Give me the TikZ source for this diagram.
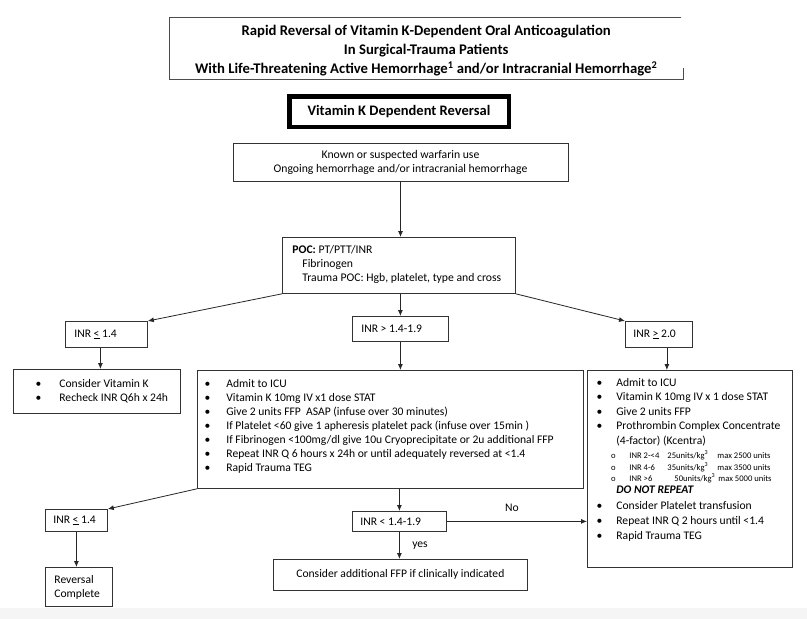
\documentclass[tikz,border=0pt]{standalone}
\usepackage{fontspec}
\setmainfont{Carlito}
\usetikzlibrary{arrows.meta}
\newcommand\bline[3]{\hspace*{#1}\makebox[0pt]{\textbullet}\hspace*{\dimexpr#2-#1\relax}#3}
\newcommand\bodyfont{\fontsize{11.6}{14}\selectfont}
\newcommand\subfont{\fontsize{8.6}{10}\selectfont}
\tikzset{
  box/.style={draw=black!80, line width=0.8pt, inner sep=0pt, anchor=north west},
  arr/.style={draw=black!85, line width=0.8pt, -{Latex[length=6pt,width=5pt]}},
  lbl/.style={inner sep=0pt, font=\bodyfont}
}
\begin{document}
\begin{tikzpicture}[x=1pt,y=-1pt]
\useasboundingbox (0,0) rectangle (807,619);
\fill[white] (0,0) rectangle (807,619);
\fill[black!4] (0,608) rectangle (807,619);

% title
\node[inner sep=0pt, anchor=north west] (title) at (169,17) {\parbox[c][62pt][t]{514pt}{\centering\fontsize{14.7}{19}\bfseries\selectfont\rule{0pt}{18.5pt}Rapid Reversal of Vitamin K-Dependent Oral Anticoagulation\\ In Surgical-Trauma Patients\\ With Life-Threatening Active Hemorrhage\textsuperscript{1} and/or Intracranial Hemorrhage\textsuperscript{2}}};
\draw[black!70, line width=0.8pt] ([xshift=-2pt]title.north east) -- (title.north west) -- (title.south west) -- (title.south east) -- ++(0,-11);

% vitamin K dependent reversal
\node[draw=black, line width=4.5pt, inner sep=0pt, minimum width=219.5pt, minimum height=30.5pt, font=\fontsize{14.5}{16}\bfseries\selectfont] (vkdr) at (399,111.5) {Vitamin K Dependent Reversal};

% known
\node[draw=black!80, line width=0.8pt, minimum width=335pt, minimum height=38pt, align=center, inner sep=0pt, font=\fontsize{11.7}{14}\selectfont] (known) at (400.5,162) {Known or suspected warfarin use\\Ongoing hemorrhage and/or intracranial hemorrhage};

% POC
\node[box] (poc) at (282,237) {\parbox[c][56pt][t]{233pt}{\fontsize{11.7}{14}\selectfont\rule{0pt}{16pt}\hspace*{10pt}\textbf{POC:} PT/PTT/INR\\ \hspace*{20pt}Fibrinogen\\ \hspace*{20pt}Trauma POC: Hgb, platelet, type and cross}};

% INR decision boxes
\node[box] (inrl) at (65,321) {\parbox[c][26pt][c]{82pt}{\bodyfont\hspace*{9pt}INR \underline{<} 1.4}};
\node[box] (inrm) at (352,316) {\parbox[c][25pt][c]{96pt}{\bodyfont\hspace*{9pt}INR > 1.4-1.9}};
\node[box] (inrh) at (625,321) {\parbox[c][26pt][c]{67pt}{\bodyfont\hspace*{8pt}INR \underline{>} 2.0}};

% left box
\node[box] (lbox) at (13,369) {\parbox[c][44pt][t]{167pt}{\bodyfont\rule{0pt}{18pt}%
\bline{25pt}{46pt}{Consider Vitamin K}\\
\bline{25pt}{46pt}{Recheck INR Q6h x 24h}}};

% middle box
\node[box] (mbox) at (197,370) {\parbox[c][118pt][t]{386pt}{\fontsize{11.6}{14}\selectfont\rule{0pt}{17pt}%
\bline{10pt}{29pt}{Admit to ICU}\\
\bline{10pt}{29pt}{Vitamin K 10mg IV x1 dose STAT}\\
\bline{10pt}{29pt}{Give 2 units FFP\ \ ASAP (infuse over 30 minutes)}\\
\bline{10pt}{29pt}{If Platelet <60 give 1 apheresis platelet pack (infuse over 15min )}\\
\bline{10pt}{29pt}{If Fibrinogen <100mg/dl give 10u Cryoprecipitate or 2u additional FFP}\\
\bline{10pt}{29pt}{Repeat INR Q 6 hours x 24h or until adequately reversed at <1.4}\\
\bline{10pt}{29pt}{Rapid Trauma TEG}}};

% right box
\node[box] (rbox) at (587,370) {\parbox[c][197pt][t]{205pt}{\fontsize{11.6}{14.5}\selectfont\rule{0pt}{16pt}%
\bline{12pt}{29pt}{Admit to ICU}\\
\bline{12pt}{29pt}{Vitamin K 10mg IV x 1 dose STAT}\\
\bline{12pt}{29pt}{Give 2 units FFP}\\
\bline{12pt}{29pt}{Prothrombin Complex Concentrate}\\
\hspace*{29pt}(4-factor) (Kcentra)\\[-0.5pt]
{\subfont\hspace*{26pt}\makebox[0pt]{o}\hspace*{16pt}\makebox[38pt][l]{INR 2-<4}\makebox[50pt][l]{25units/kg\textsuperscript{3}}max 2500 units}\\[-2.5pt]
{\subfont\hspace*{26pt}\makebox[0pt]{o}\hspace*{16pt}\makebox[38pt][l]{INR 4-6}\makebox[50pt][l]{35units/kg\textsuperscript{3}}max 3500 units}\\[-3.5pt]
{\subfont\hspace*{26pt}\makebox[0pt]{o}\hspace*{16pt}\makebox[45pt][l]{INR >6}\makebox[44pt][l]{50units/kg\textsuperscript{3}}max 5000 units}\\[-2.5pt]
\hspace*{29pt}\textbf{\textit{DO NOT REPEAT}}\\[1.5pt]
\bline{12pt}{29pt}{Consider Platelet transfusion}\\[0.5pt]
\bline{12pt}{29pt}{Repeat INR Q 2 hours until <1.4}\\[0.5pt]
\bline{12pt}{29pt}{Rapid Trauma TEG}}};

% bottom row
\node[box] (inrl2) at (45,509) {\parbox[c][22pt][c]{62pt}{\bodyfont\hspace*{8pt}INR \underline{<} 1.4}};
\node[box] (rc) at (45,567) {\parbox[c][39pt][t]{67pt}{\bodyfont\rule{0pt}{16pt}\hspace*{9pt}Reversal\\ \hspace*{9pt}Complete}};
\node[box] (inrm2) at (352,511) {\parbox[c][20pt][c]{94pt}{\bodyfont\hspace*{8pt}INR < 1.4-1.9}};
\node[box] (ffp) at (273,559) {\parbox[c][31pt][c]{254pt}{\centering\bodyfont Consider additional FFP if clinically indicated}};

% labels
\node[lbl] (no) at (512,508) {No};
\node[lbl] (yes) at (420,546) {yes};

% connectors
\draw[arr] (known.south) -- (known.south |- poc.north);
\draw[arr] ([xshift=1.5pt]poc.south) -- ([xshift=1.5pt]poc.south |- inrm.north);
\draw[arr] (poc.south west) -- (inrl.north east);
\draw[arr] (poc.south east) -- (inrh.north west);
\draw[arr] ([xshift=-6pt]inrl.south) -- ([xshift=-6pt]inrl.south |- lbox.north);
\draw[arr] (inrm.south) -- (inrm.south |- mbox.north);
\draw[arr] ([xshift=8pt]inrh.south) -- ([xshift=8pt]inrh.south |- rbox.north);
\draw[arr] (mbox.south west) -- (inrl2.north east);
\draw[arr] (inrl2.south) -- (inrl2.south |- rc.north);
\draw[arr] (inrm2.north |- mbox.south) -- (inrm2.north);
\draw[arr] (inrm2.south) -- (inrm2.south |- ffp.north);
\draw[arr] (inrm2.east) -- (inrm2.east -| rbox.west);
\end{tikzpicture}
\end{document}
